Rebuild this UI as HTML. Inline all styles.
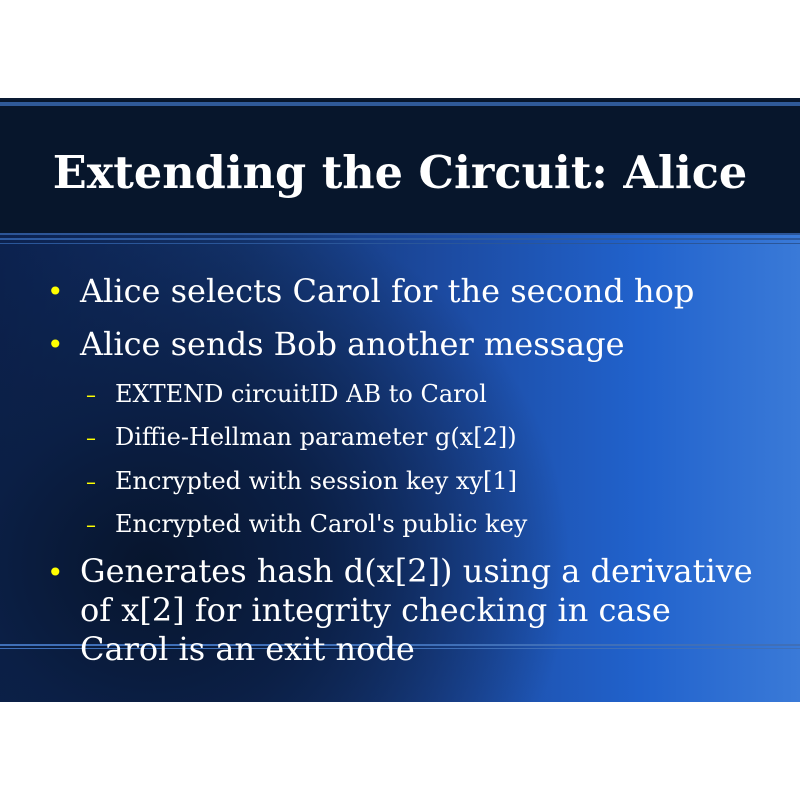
<!DOCTYPE html>
<html><head><style>
html,body{margin:0;padding:0;width:800px;height:800px;background:#fff;overflow:hidden}
.s{position:absolute;left:0;top:98px;width:800px;height:604px;overflow:hidden}
.title{position:absolute;left:0;top:0;width:800px;height:137px;background:#07162c;border-top:2px solid #0a1a33}
.tl{position:absolute;left:0;top:2px;width:800px;height:4px;background:#2f5a99}
.title h1{position:absolute;left:0;width:800px;top:46px;margin:0;text-align:center;color:#fff;font:bold 45px "DejaVu Serif","Liberation Serif",serif;transform:scaleX(0.99)}
.body{position:absolute;left:0;top:137px;width:800px;height:467px;
background:radial-gradient(ellipse 420px 380px at 150px 330px,#07152d 0%,#0b1f45 40%,rgba(20,60,140,0) 100%),linear-gradient(90deg,#0c2250 0%,#143570 30%,#1c4aa0 55%,#2162cc 80%,#3a7ad8 100%)}
.hl{position:absolute;left:0;width:800px;height:2px;background:#3f6fb8}
.t{position:absolute;color:#fff;font-family:"DejaVu Serif","Liberation Serif",serif;white-space:nowrap;transform-origin:0 0}
.b{position:absolute;color:#ffff00}
</style></head><body>
<div class="s">
<div class="title"><div class="tl"></div><h1>Extending the Circuit: Alice</h1></div>
<div class="hl" style="top:135px;background:#2c5597"></div>
<div class="body">
<div class="hl" style="top:3px;background:#2d5aa0"></div>
<div class="hl" style="top:8px;background:#2a5699;height:1px"></div>
<div class="hl" style="top:409px"></div>
<div class="hl" style="top:413px;height:1px"></div>
</div>
</div>
<div class="b" style="left:47px;top:275px;font:28px 'DejaVu Sans',sans-serif">•</div>
<div class="t" style="left:80px;top:272px;font-size:32px">Alice selects Carol for the second hop</div>
<div class="b" style="left:47px;top:328px;font:28px 'DejaVu Sans',sans-serif">•</div>
<div class="t" style="left:80px;top:325px;font-size:32px">Alice sends Bob another message</div>
<div class="b" style="left:86px;top:383px;font:20px 'DejaVu Sans',sans-serif">–</div>
<div class="t" style="left:115px;top:380px;font-size:24px">EXTEND circuitID AB to Carol</div>
<div class="b" style="left:86px;top:426px;font:20px 'DejaVu Sans',sans-serif">–</div>
<div class="t" style="left:115px;top:423px;font-size:24px">Diffie-Hellman parameter g(x[2])</div>
<div class="b" style="left:86px;top:470px;font:20px 'DejaVu Sans',sans-serif">–</div>
<div class="t" style="left:115px;top:467px;font-size:24px">Encrypted with session key xy[1]</div>
<div class="b" style="left:86px;top:513px;font:20px 'DejaVu Sans',sans-serif">–</div>
<div class="t" style="left:115px;top:510px;font-size:24px">Encrypted with Carol's public key</div>
<div class="b" style="left:47px;top:556px;font:28px 'DejaVu Sans',sans-serif">•</div>
<div class="t" style="left:80px;top:552px;font-size:32px;line-height:39px">Generates hash d(x[2]) using a derivative<br>of x[2] for integrity checking in case<br>Carol is an exit node</div>
</body></html>
